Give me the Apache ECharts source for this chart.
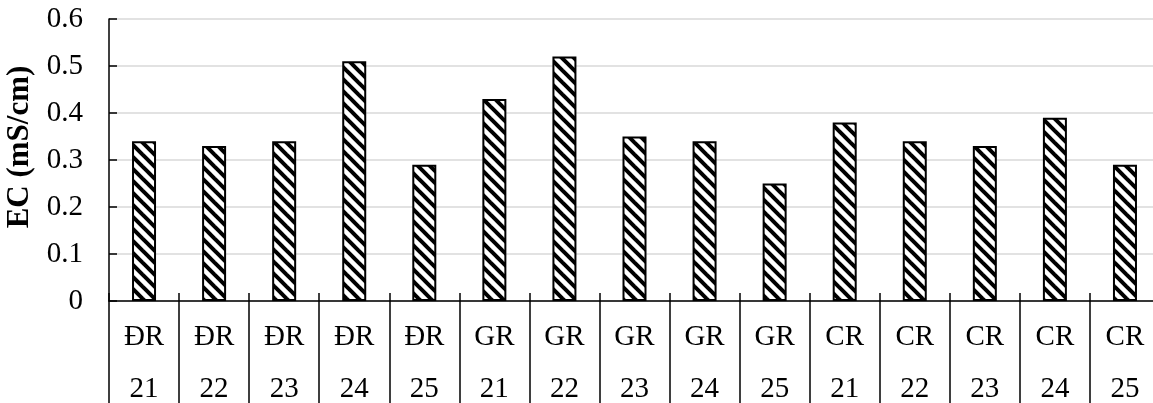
<!DOCTYPE html>
<html>
<head>
<meta charset="utf-8">
<script src="https://cdn.jsdelivr.net/npm/echarts@6/dist/echarts.min.js"></script>
<style>
html,body{margin:0;padding:0;background:#fff;}
#chart{width:1153px;height:403px;}
</style>
</head>
<body>
<div id="chart"></div>
<script>
const groups = ['ĐR','ĐR','ĐR','ĐR','ĐR','GR','GR','GR','GR','GR','CR','CR','CR','CR','CR'];
const nums = ['21','22','23','24','25','21','22','23','24','25','21','22','23','24','25'];
const ecValues = [0.34,0.33,0.34,0.51,0.29,0.43,0.52,0.35,0.34,0.25,0.38,0.34,0.33,0.39,0.29];
const yTicks = [0,0.1,0.2,0.3,0.4,0.5,0.6];
const yName = 'EC (mS/cm)';

const categories = groups.map((g,i)=>g+'\n'+nums[i]);

// hatch pattern
const N = 12;
const pc = document.createElement('canvas');
pc.width = N; pc.height = N;
const ctx = pc.getContext('2d');
ctx.fillStyle = '#fff';
ctx.fillRect(0,0,N,N);
ctx.strokeStyle = '#000';
ctx.lineWidth = 4;
for (let k=-1;k<=1;k++){
  ctx.beginPath();
  ctx.moveTo(k*N - 2, -2);
  ctx.lineTo(k*N + N + 2, N + 2);
  ctx.stroke();
}

const font = 'Liberation Serif';
const chart = echarts.init(document.getElementById('chart'), null, {renderer:'canvas'});
chart.setOption({
  animation:false,
  backgroundColor:'#fff',
  grid:{left:109, top:19, right:-7, bottom:102, containLabel:false, outerBoundsMode:'none'},
  xAxis:[{
    type:'category',
    data:categories,
    position:'bottom',
    axisLine:{show:true, lineStyle:{color:'#000', width:1.5}},
    axisTick:{show:true, length:103, lineStyle:{color:'#000', width:1.5}},
    axisLabel:{
      margin:10,
      fontFamily:font, fontSize:29, color:'#000',
      lineHeight:52
    },
    splitLine:{show:false}
  },{
    type:'category',
    data:categories,
    position:'bottom',
    axisLine:{show:false},
    axisTick:{show:true, inside:true, length:8, lineStyle:{color:'#000', width:1.5}},
    axisLabel:{show:false},
    splitLine:{show:false}
  }],
  yAxis:{
    type:'value',
    min:yTicks[0], max:yTicks[yTicks.length-1], interval:0.1,
    name:yName,
    nameLocation:'middle',
    nameGap:68,
    nameTextStyle:{fontFamily:font, fontSize:31, fontWeight:'bold', color:'#000', padding:[0,0,0,26]},
    axisLine:{show:true, lineStyle:{color:'#000', width:1.5}},
    axisTick:{show:true, inside:true, length:8, lineStyle:{color:'#000', width:1.5}},
    axisLabel:{fontFamily:font, fontSize:29, color:'#000', margin:26,
      formatter:v=>String(Math.round(v*10)/10)},
    splitLine:{show:true, lineStyle:{color:'#d9d9d9', width:1.5}}
  },
  series:[{
    type:'bar',
    data:ecValues,
    barWidth:24,
    itemStyle:{color:{image:pc, repeat:'repeat'}, borderColor:'#000', borderWidth:2}
  }]
});
</script>
</body>
</html>
